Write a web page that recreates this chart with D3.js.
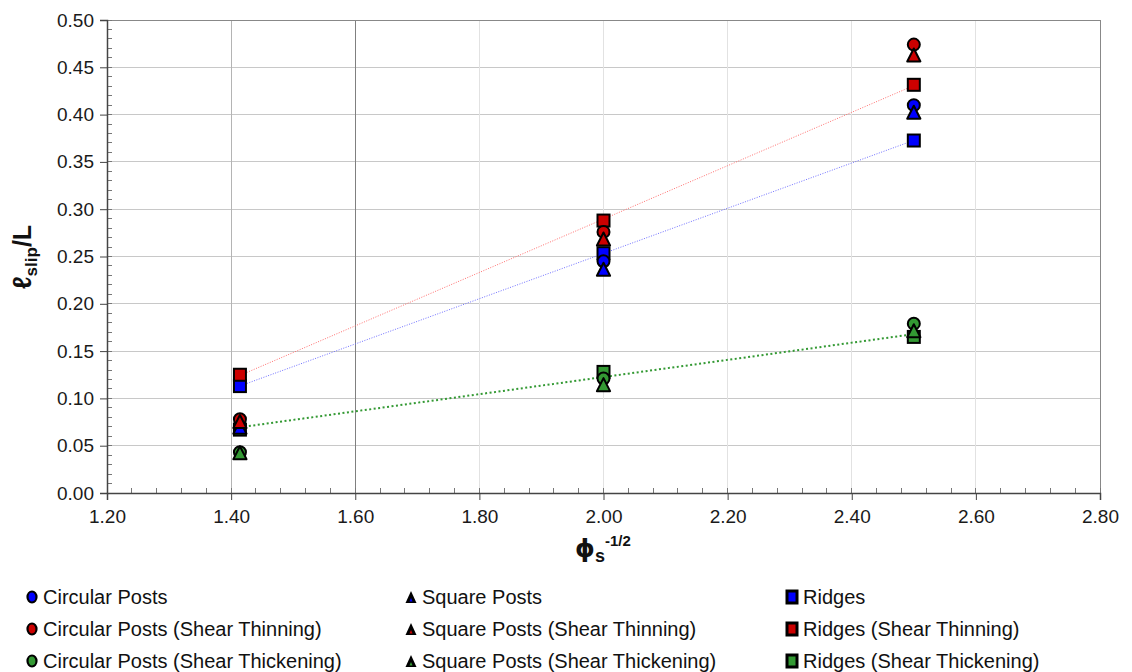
<!DOCTYPE html>
<html>
<head>
<meta charset="utf-8">
<script src="https://cdn.jsdelivr.net/npm/d3@7"></script>
<style>
  html, body { margin: 0; padding: 0; background: #fff; }
  svg { display: block; font-family: "Liberation Sans", Arial, sans-serif; }
</style>
</head>
<body>
<svg id="chart" width="1132" height="672"></svg>
<script>
// ---- data ----
const xValues = [1.4142, 2.0, 2.5];
const circularPosts        = [0.071, 0.245, 0.410];
const squarePosts          = [0.069, 0.236, 0.402];
const ridges               = [0.113, 0.2535, 0.3726];
const circularThinning     = [0.078, 0.276, 0.474];
const squareThinning       = [0.075, 0.268, 0.4625];
const ridgesThinning       = [0.125, 0.288, 0.4315];
const circularThickening   = [0.043, 0.121, 0.179];
const squareThickening     = [0.042, 0.114, 0.171];
const ridgesThickening     = [0.067, 0.128, 0.165];
const xTicks = [1.20, 1.40, 1.60, 1.80, 2.00, 2.20, 2.40, 2.60, 2.80];
const yTicks = [0.00, 0.05, 0.10, 0.15, 0.20, 0.25, 0.30, 0.35, 0.40, 0.45, 0.50];
const legendLabels = [
  "Circular Posts", "Square Posts", "Ridges",
  "Circular Posts (Shear Thinning)", "Square Posts (Shear Thinning)", "Ridges (Shear Thinning)",
  "Circular Posts (Shear Thickening)", "Square Posts (Shear Thickening)", "Ridges (Shear Thickening)"
];

const BLUE = "#0000ff", RED = "#cc0000", GREEN = "#339933";
const series = [
  { name: legendLabels[0], shape: "circle",   color: BLUE,  values: circularPosts },
  { name: legendLabels[1], shape: "triangle", color: BLUE,  values: squarePosts },
  { name: legendLabels[2], shape: "square",   color: BLUE,  values: ridges, trend: { color: "#7070ff", width: 1, dash: "1,1.5" } },
  { name: legendLabels[3], shape: "circle",   color: RED,   values: circularThinning },
  { name: legendLabels[4], shape: "triangle", color: RED,   values: squareThinning },
  { name: legendLabels[5], shape: "square",   color: RED,   values: ridgesThinning, trend: { color: "#ff7070", width: 1, dash: "1,1.5" } },
  { name: legendLabels[6], shape: "circle",   color: GREEN, values: circularThickening },
  { name: legendLabels[7], shape: "triangle", color: GREEN, values: squareThickening },
  { name: legendLabels[8], shape: "square",   color: GREEN, values: ridgesThickening, trend: { color: GREEN, width: 2, dash: "2,2.5" } }
];

// ---- layout ----
const svg = d3.select("#chart");
const L = 107, R = 1100, T = 20, B = 493;
const x = d3.scaleLinear().domain([1.2, 2.8]).range([L, R]);
const y = d3.scaleLinear().domain([0, 0.5]).range([B, T]);

// gridlines
const g = svg.append("g");
g.selectAll("line.hg").data(yTicks.slice(1)).enter().append("line")
  .attr("x1", L).attr("x2", R).attr("y1", d => y(d)).attr("y2", d => y(d))
  .attr("stroke", "#c8c8c8").attr("stroke-width", 1).attr("shape-rendering", "crispEdges");
const vGridColor = { 1.4: "#b4b4b4", 1.6: "#808080" };
g.selectAll("line.vg").data(xTicks.slice(1, -1)).enter().append("line")
  .attr("y1", T).attr("y2", B).attr("x1", d => x(d)).attr("x2", d => x(d))
  .attr("stroke", d => vGridColor[d] || "#e2e2e2").attr("stroke-width", 1).attr("shape-rendering", "crispEdges");

// plot border (top/right)
g.append("line").attr("x1", L).attr("x2", R).attr("y1", T).attr("y2", T)
  .attr("stroke", "#888").attr("stroke-width", 1).attr("shape-rendering", "crispEdges");
g.append("line").attr("x1", R).attr("x2", R).attr("y1", T).attr("y2", B)
  .attr("stroke", "#888").attr("stroke-width", 1).attr("shape-rendering", "crispEdges");

// minor ticks
const yMinor = d3.range(0, 0.5001, 0.01);
g.selectAll("line.ym").data(yMinor).enter().append("line")
  .attr("x1", L).attr("x2", L + 5).attr("y1", d => y(d)).attr("y2", d => y(d))
  .attr("stroke", "#777").attr("shape-rendering", "crispEdges");
const xMinor = d3.range(1.2, 2.8001, 0.04);
g.selectAll("line.xm").data(xMinor).enter().append("line")
  .attr("y1", B).attr("y2", B - 5).attr("x1", d => x(d)).attr("x2", d => x(d))
  .attr("stroke", "#777").attr("shape-rendering", "crispEdges");

// axes
const yAxis = d3.axisLeft(y).tickValues(yTicks).tickFormat(d3.format(".2f")).tickSize(7).tickPadding(6);
const xAxis = d3.axisBottom(x).tickValues(xTicks).tickFormat(d3.format(".2f")).tickSize(7).tickPadding(10);
const ya = svg.append("g").attr("transform", `translate(${L},0)`).call(yAxis);
const xa = svg.append("g").attr("transform", `translate(0,${B})`).call(xAxis);
[ya, xa].forEach(a => {
  a.select(".domain").attr("stroke", "#444").attr("stroke-width", 1.5);
  a.selectAll(".tick line").attr("stroke", "#444");
  a.selectAll("text").attr("font-size", 19).attr("fill", "#1a1a1a")
    .attr("font-family", "'Liberation Sans', Arial, sans-serif");
});

// trendlines (least-squares fit through the ridge series)
series.filter(s => s.trend).forEach(s => {
  const mx = d3.mean(xValues), my = d3.mean(s.values);
  const sxy = d3.sum(xValues, (xv, i) => (xv - mx) * (s.values[i] - my));
  const sxx = d3.sum(xValues, xv => (xv - mx) * (xv - mx));
  const slope = sxy / sxx, icpt = my - slope * mx;
  const x0 = d3.min(xValues), x1 = d3.max(xValues);
  svg.append("line")
    .attr("x1", x(x0)).attr("y1", y(icpt + slope * x0))
    .attr("x2", x(x1)).attr("y2", y(icpt + slope * x1))
    .attr("stroke", s.trend.color).attr("stroke-width", s.trend.width)
    .attr("stroke-dasharray", s.trend.dash);
});

// markers
function drawMarker(sel, shape, color, size, stroke) {
  if (shape === "circle") {
    sel.append("circle").attr("r", size / 2).attr("fill", color)
      .attr("stroke", "#000").attr("stroke-width", stroke);
  } else if (shape === "square") {
    sel.append("rect").attr("x", -size / 2).attr("y", -size / 2)
      .attr("width", size).attr("height", size).attr("fill", color)
      .attr("stroke", "#000").attr("stroke-width", stroke);
  } else {
    const h = size * 1.0, w = size * 1.1;
    sel.append("path").attr("d", `M0,${-h / 2 - 1}L${w / 2},${h / 2}L${-w / 2},${h / 2}Z`)
      .attr("fill", color).attr("stroke", "#000").attr("stroke-width", stroke)
      .attr("stroke-linejoin", "round");
  }
}
const drawOrder = ["square", "circle", "triangle"];
drawOrder.forEach(shape => {
  series.filter(s => s.shape === shape).forEach(s => {
    s.values.forEach((v, i) => {
      const m = svg.append("g").attr("transform", `translate(${x(xValues[i])},${y(v)})`);
      drawMarker(m, shape, s.color, 12, 2);
    });
  });
});

// axis titles
const yt = svg.append("text")
  .attr("transform", "translate(31,257) rotate(-90)")
  .attr("text-anchor", "middle").attr("font-weight", "bold").attr("fill", "#111");
yt.append("tspan").attr("font-size", 26).text("ℓ");
yt.append("tspan").attr("font-size", 17).attr("dy", 6).text("slip");
yt.append("tspan").attr("font-size", 25).attr("dy", -6).text("/L");

const xt = svg.append("text")
  .attr("x", 603).attr("y", 557)
  .attr("text-anchor", "middle").attr("font-weight", "bold").attr("fill", "#111");
xt.append("tspan").attr("font-size", 25)
  .attr("font-family", "'DejaVu Sans', 'Liberation Sans', sans-serif").text("ϕ");
xt.append("tspan").attr("font-size", 18).attr("dy", 5).text("s");
xt.append("tspan").attr("font-size", 15).attr("dy", -16).text("-1/2");

// legend
const colX = [32, 411, 792];
const rowY = [597, 629, 661];
const lg = svg.append("g");
series.forEach((s, i) => {
  const cx = colX[i % 3], cy = rowY[Math.floor(i / 3)];
  const m = lg.append("g").attr("transform", `translate(${cx},${cy})`);
  if (s.shape === "circle") {
    m.append("ellipse").attr("rx", 4.5).attr("ry", 5.5).attr("fill", s.color)
      .attr("stroke", "#000").attr("stroke-width", 2.2);
  } else if (s.shape === "square") {
    m.append("rect").attr("x", -5).attr("y", -6).attr("width", 10).attr("height", 12)
      .attr("fill", s.color).attr("stroke", "#000").attr("stroke-width", 3);
  } else {
    m.append("path").attr("d", "M0,-6L5.5,6L-5.5,6Z").attr("fill", "#000");
    m.append("path").attr("d", "M0,1L1.5,4.5L-1.5,4.5Z").attr("fill", s.color);
  }
  lg.append("text").attr("x", cx + 11).attr("y", cy + 7)
    .attr("font-size", 20).attr("fill", "#111").text(s.name);
});
</script>
</body>
</html>
